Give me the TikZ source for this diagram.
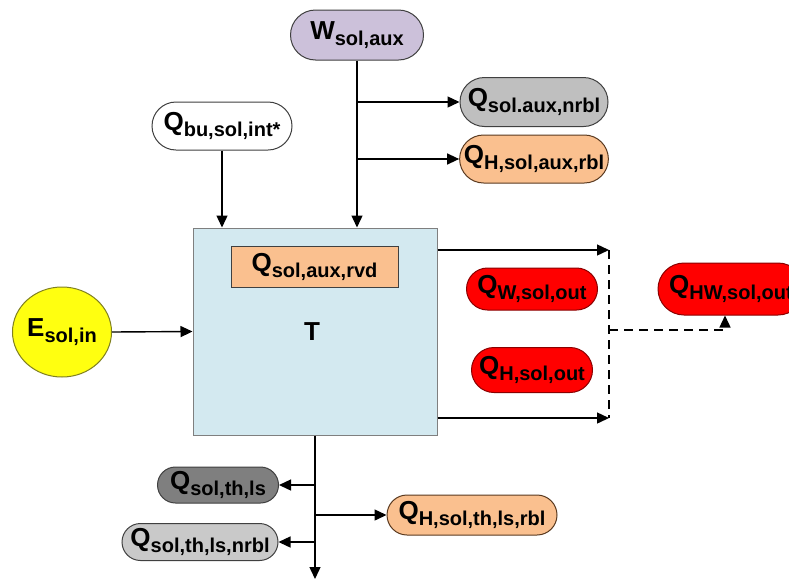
\documentclass[tikz,border=0pt]{standalone}
\usepackage{fontspec}
\setmainfont{Liberation Sans}
\usetikzlibrary{arrows.meta,shapes.misc,shapes.geometric}
\definecolor{cpurple}{HTML}{CCC1DA}
\definecolor{cgray}{HTML}{BFBFBF}
\definecolor{corange}{HTML}{FAC08F}
\definecolor{cblue}{HTML}{D3E9F0}
\definecolor{cred}{HTML}{FF0000}
\definecolor{cdgray}{HTML}{7F7F7F}
\definecolor{clgray}{HTML}{C9C9C9}
\definecolor{cyellow}{HTML}{FFFF10}
\definecolor{cborder}{HTML}{404040}
\definecolor{cbrown}{HTML}{5A3A20}
\definecolor{cdred}{HTML}{8B0000}
\definecolor{colive}{HTML}{808020}
\newcommand{\lb}[2]{#1\raisebox{-6pt}{\fontsize{20}{20}\selectfont #2}}
\begin{document}
\begin{tikzpicture}[x=1pt,y=-1pt,
  lbl/.style={font=\fontsize{26}{28}\selectfont\bfseries, inner sep=0pt},
  pill/.style={lbl, rounded rectangle, line width=1pt},
  arr/.style={line width=1.4pt, -{Triangle[length=12pt,width=11pt]}},
  dashline/.style={line width=1.4pt, dash pattern=on 9pt off 6pt}]
\useasboundingbox (0,0) rectangle (789,584);
\clip (0,0) rectangle (789,584);
\fill[white] (0,0) rectangle (789,584);

% main box
\node[draw=cdgray, fill=cblue, line width=1pt, minimum width=244pt, minimum height=207pt, inner sep=0pt] (box) at (315,331.5) {};
\node[lbl, draw=cborder, fill=corange, line width=1pt, minimum width=167pt, minimum height=41pt] (rvd) at (314.5,266.5) {\lb{Q}{sol,aux,rvd}};
\node[lbl] (T) at (312,332) {T};

% top nodes
\node[pill, fill=cpurple, draw=cborder, minimum width=133pt, minimum height=50pt] (W) at (357,35) {\lb{W}{sol,aux}};
\node[pill, fill=cgray, draw=cborder, minimum width=148pt, minimum height=49pt] (nrbl) at (534,102) {\lb{Q}{sol.aux,nrbl}};
\node[pill, fill=corange, draw=cbrown, minimum width=148pt, minimum height=48pt] (haux) at (534,159) {\lb{Q}{H,sol,aux,rbl}};
\node[pill, fill=white, draw=cborder, minimum width=140pt, minimum height=48pt] (bu) at (222,126) {\lb{Q}{bu,sol,int*}};

% left
\node[lbl, ellipse, fill=cyellow, draw=colive, line width=1pt, minimum width=99pt, minimum height=90pt] (E) at (62,332) {\lb{E}{sol,in}};

% right
\node[pill, fill=cred, draw=cdred, minimum width=131pt, minimum height=42pt] (Wout) at (532,289) {\lb{Q}{W,sol,out}};
\node[pill, fill=cred, draw=cdred, minimum width=121pt, minimum height=45pt] (Hout) at (532,370) {\lb{Q}{H,sol,out}};
\node[pill, fill=cred, draw=cdred, minimum width=146pt, minimum height=52pt] (HW) at (731,289) {\lb{Q}{HW,sol,out}};

% bottom
\node[pill, fill=cdgray, draw=cborder, minimum width=121pt, minimum height=36pt] (ls) at (218,485) {\lb{Q}{sol,th,ls}};
\node[pill, fill=corange, draw=cbrown, minimum width=170pt, minimum height=40pt] (thrbl) at (472,515) {\lb{Q}{H,sol,th,ls,rbl}};
\node[pill, fill=clgray, draw=cborder, minimum width=156pt, minimum height=37pt] (thnrbl) at (200,542) {\lb{Q}{sol,th,ls,nrbl}};

% coordinates
\coordinate (c1) at (609,250);
\coordinate (c2) at (609,418);
\coordinate (cm) at (609,330);
\coordinate (bot) at (315,579);

% connectors
\draw[arr] (W.south) -- (W.south |- box.north);
\draw[arr] (W.south |- nrbl.west) -- (nrbl.west);
\draw[arr] (W.south |- haux.west) -- (haux.west);
\draw[arr] (bu.south) -- (bu.south |- box.north);
\draw[arr] (E.east) -- (box.west);
\draw[arr] (box.east |- c1) -- (c1);
\draw[arr] (box.east |- c2) -- (c2);
\draw[dashline] (c1) -- (c2);
\draw[dashline, -{Triangle[length=12pt,width=11pt]}] (cm) -| ([xshift=-6pt]HW.south);
\draw[arr] (box.south) -- (bot);
\draw[arr] (box.south |- ls.east) -- (ls.east);
\draw[arr] (box.south |- thrbl.west) -- (thrbl.west);
\draw[arr] (box.south |- thnrbl.east) -- (thnrbl.east);
\end{tikzpicture}
\end{document}
